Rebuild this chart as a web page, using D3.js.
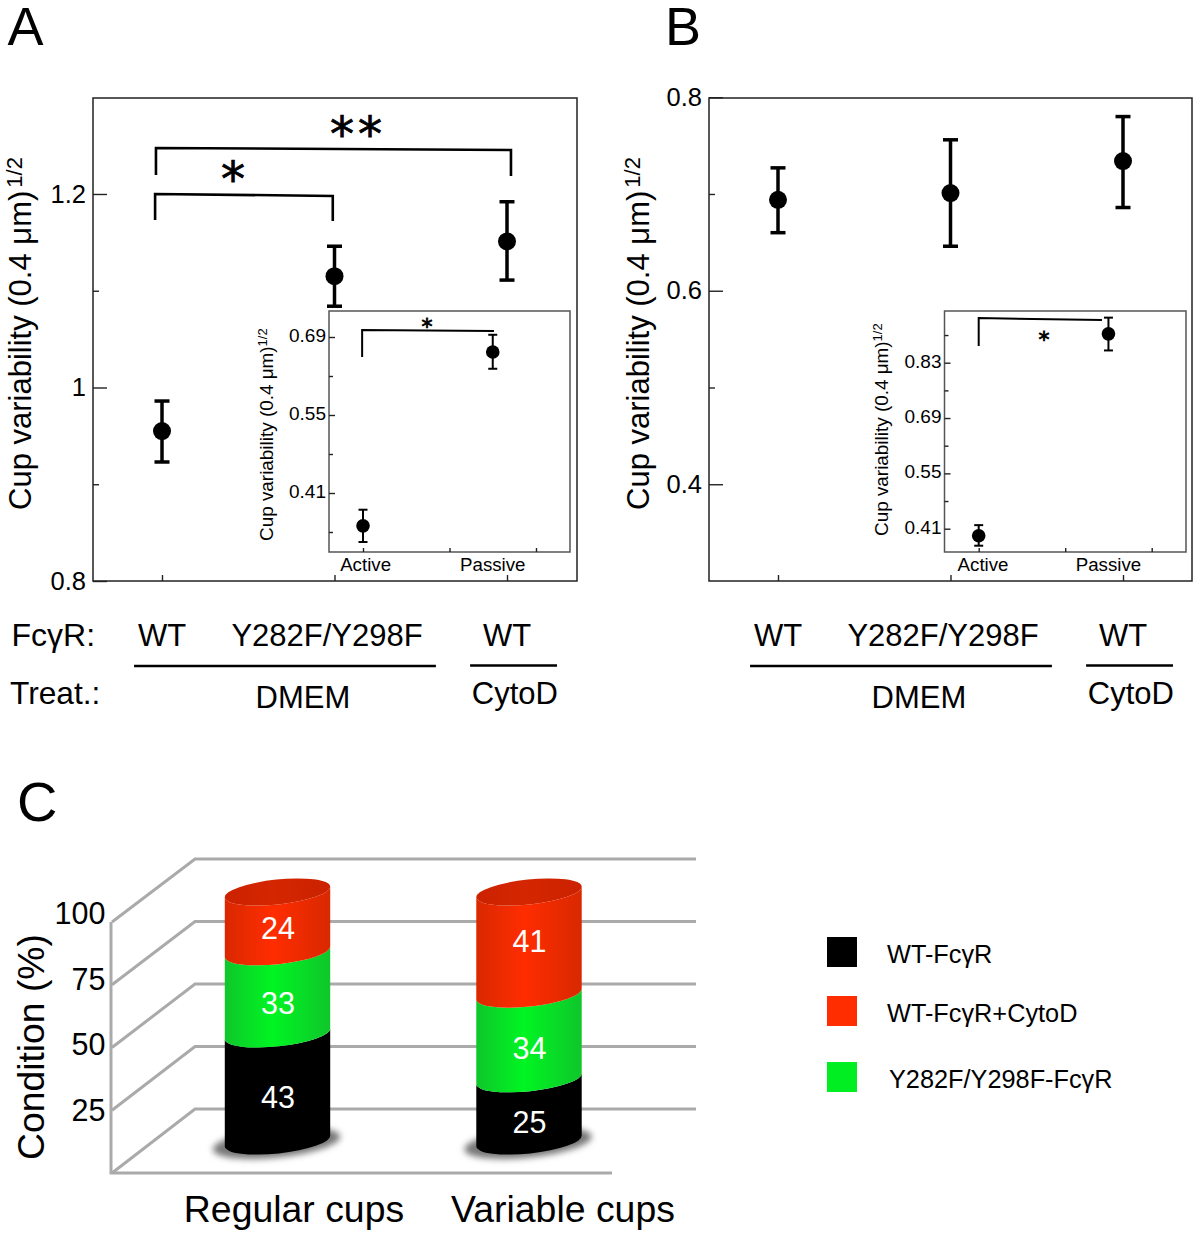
<!DOCTYPE html>
<html>
<head>
<meta charset="utf-8">
<script src="https://cdn.jsdelivr.net/npm/d3@7"></script>
<style>
body { margin: 0; background: #fff; }
svg { display: block; }
text { font-family: "Liberation Sans", Arial, sans-serif; fill: #000; }
.star { font-family: "DejaVu Sans", sans-serif; stroke: #000; stroke-width: 0.8; }
</style>
</head>
<body>
<div id="chart"></div>
<script>
// panel A, main plot
var meanA = [0.955, 1.115, 1.151],
    lowA = [0.923, 1.084, 1.111],
    highA = [0.986, 1.146, 1.192],
    majorA = [0.8, 1, 1.2],
    minorA = [0.9, 1.1],
    bracketsA = [
        [[-0.035, 1.2196], [-0.035, 1.2475], [2.023, 1.2455], [2.023, 1.2186]],
        [[-0.04, 1.1731], [-0.04, 1.2], [0.99, 1.198], [0.99, 1.1721]]
    ];

// panel A, inset
var insetX = [1, 2.5],
    insetNames = ["Active", "Passive"],
    insetTicksX = [1, 2, 3],
    meanAi = [0.351, 0.663],
    lowAi = [0.322, 0.633],
    highAi = [0.380, 0.694],
    majorAi = [0.41, 0.55, 0.69],
    minorAi = [0.34, 0.48, 0.62],
    bracketAi = [[0.99, 0.654], [0.99, 0.7026], [2.514, 0.7008]];

// panel B, main plot
var meanB = [0.694, 0.701, 0.734],
    lowB = [0.66, 0.646, 0.686],
    highB = [0.727, 0.756, 0.78],
    majorB = [0.4, 0.6, 0.8],
    minorB = [0.5, 0.7];

// panel B, inset
var meanBi = [0.392, 0.903],
    lowBi = [0.367, 0.861],
    highBi = [0.419, 0.944],
    majorBi = [0.41, 0.55, 0.69, 0.83],
    minorBi = [0.48, 0.62, 0.76, 0.9],
    bracketBi = [[1, 0.872], [1, 0.943], [2.425, 0.938]];

// panel C
var cups = ["Regular cups", "Variable cups"],
    regular = [43, 33, 24],
    variable = [25, 34, 41],
    gridC = [0, 25, 50, 75, 100],
    ticksC = [25, 50, 75, 100],
    legendNames = ["WT-FcγR", "WT-FcγR+CytoD", "Y282F/Y298F-FcγR"],
    legendColors = ["#000000", "#ff2d00", "#00ee22"];

var svg = d3.select("#chart").append("svg")
    .attr("width", 1200)
    .attr("height", 1237);

var line = d3.line();

function addTitle(x, y, size, supSize, supUp, gap) {
    var t = svg.append("text")
        .attr("transform", "translate(" + x + "," + y + ") rotate(-90)")
        .attr("font-size", size)
        .text("Cup variability (0.4 μm)");
    t.append("tspan")
        .attr("font-size", supSize)
        .attr("dx", gap)
        .attr("dy", -supUp)
        .text("1/2");
}

function tidy(sel) {
    sel.select(".domain").remove();
    sel.selectAll("line").attr("stroke", "#222").attr("stroke-width", 1.4);
    sel.attr("font-family", null).attr("font-size", null);
}

function drawAxes(g, left, bottom, x, y, xTicks, major, minor, o) {
    g.append("g")
        .attr("transform", "translate(" + left + ",0)")
        .call(d3.axisLeft(y).tickValues(major).tickSize(-o.major).tickPadding(o.pad).tickFormat(String))
        .call(tidy)
        .selectAll("text").attr("font-size", o.font).attr("y", o.labelUp ? -o.labelUp : 0);
    g.append("g")
        .attr("transform", "translate(" + left + ",0)")
        .call(d3.axisLeft(y).tickValues(minor).tickSize(-o.minor).tickFormat(""))
        .call(tidy);
    g.append("g")
        .attr("transform", "translate(0," + bottom + ")")
        .call(d3.axisBottom(x).tickValues(xTicks).tickSize(-o.minor).tickFormat(""))
        .call(tidy);
}

function drawPoints(g, xs, x, y, mean, low, high, o) {
    var idx = d3.range(mean.length);
    g.selectAll(null).data(idx).enter().append("line")
        .attr("x1", function(i) { return x(xs[i]); })
        .attr("x2", function(i) { return x(xs[i]); })
        .attr("y1", function(i) { return y(low[i]); })
        .attr("y2", function(i) { return y(high[i]); })
        .attr("stroke", "#000").attr("stroke-width", o.w);
    [low, high].forEach(function(arr) {
        g.selectAll(null).data(idx).enter().append("line")
            .attr("x1", function(i) { return x(xs[i]) - o.cap; })
            .attr("x2", function(i) { return x(xs[i]) + o.cap; })
            .attr("y1", function(i) { return y(arr[i]); })
            .attr("y2", function(i) { return y(arr[i]); })
            .attr("stroke", "#000").attr("stroke-width", o.w);
    });
    g.selectAll(null).data(idx).enter().append("circle")
        .attr("cx", function(i) { return x(xs[i]); })
        .attr("cy", function(i) { return y(mean[i]); })
        .attr("r", o.r)
        .attr("fill", "#000");
}

function drawBracket(g, pts, x, y, w) {
    g.append("path")
        .attr("d", line(pts.map(function(p) { return [x(p[0]), y(p[1])]; })))
        .attr("fill", "none").attr("stroke", "#000").attr("stroke-width", w);
}

function star(px, py, size, s, spacing) {
    svg.append("text").attr("class", "star")
        .attr("x", px).attr("y", py)
        .attr("font-size", size)
        .attr("text-anchor", "middle")
        .attr("letter-spacing", spacing || 0)
        .text(s);
}

function drawMain(dx, yDomain, mean, low, high, major, minor) {
    var g = svg.append("g");
    var x = d3.scaleLinear().domain([0, 2]).range([162 + dx, 507 + dx]);
    var y = d3.scaleLinear().domain(yDomain).range([581, 98]);
    var left = 93 + dx, right = dx ? 576 + dx : 577;
    g.append("rect")
        .attr("x", left).attr("y", 98)
        .attr("width", right - left).attr("height", 483)
        .attr("fill", "none").attr("stroke", "#222").attr("stroke-width", 1.5);
    drawAxes(g, left, 581, x, y, [0, 1, 2], major, minor, {major: 14, minor: 6, pad: 7, font: 25.5});
    drawPoints(g, [0, 1, 2], x, y, mean, low, high, {w: 3.5, cap: 7.5, r: 9});

    // factor labels under the plot
    var tx = function(s, px, py) {
        svg.append("text").attr("x", px).attr("y", py)
            .attr("font-size", 31).attr("text-anchor", "middle").text(s);
    };
    tx("WT", x(0), 646);
    tx("Y282F/Y298F", x(0.957), 646);
    tx("WT", x(2), 646);
    tx("DMEM", x(0.817), 708);
    tx("CytoD", x(2.046), 704);
    [[-0.162, 1.588], [1.786, 2.29]].forEach(function(s, i) {
        svg.append("line")
            .attr("x1", x(s[0])).attr("x2", x(s[1]))
            .attr("y1", 666 - i * 0.5).attr("y2", 666 - i * 0.5)
            .attr("stroke", "#000").attr("stroke-width", 2.6);
    });
    return {x: x, y: y};
}

function drawInset(x0, x1, tickX, yPx, yVals, mean, low, high, major, minor, labelPos) {
    var g = svg.append("g");
    var x = d3.scaleLinear().domain([1, 3]).range(tickX);
    var y = d3.scaleLinear().domain(yVals).range(yPx);
    g.append("rect")
        .attr("x", x0).attr("y", 311)
        .attr("width", x1 - x0).attr("height", 241)
        .attr("fill", "#fff").attr("stroke", "#555").attr("stroke-width", 1.5);
    drawAxes(g, x0, 552, x, y, insetTicksX, major, minor, {major: 6, minor: 4, pad: 3, font: 19, labelUp: 1.5});
    drawPoints(g, insetX, x, y, mean, low, high, {w: 2, cap: 4.5, r: 6.8});
    insetNames.forEach(function(n, i) {
        svg.append("text").attr("x", x(labelPos[i])).attr("y", 571)
            .attr("font-size", 18.7).attr("text-anchor", "middle").text(n);
    });
    return {x: x, y: y, g: g};
}

// panel letters
[["A", 7.5, 45], ["B", 665, 45], ["C", 17, 821]].forEach(function(d) {
    svg.append("text").attr("x", d[1]).attr("y", d[2]).attr("font-size", d[0] === "C" ? 56 : 54).text(d[0]);
});

// panel A
var pa = drawMain(0, [0.8, 1.2992], meanA, lowA, highA, majorA, minorA);
bracketsA.forEach(function(b) { drawBracket(svg, b, pa.x, pa.y, 2.6); });
star(358, 151, 48, "**", 4);
star(233, 196, 48, "*");
addTitle(31, 510, 31, 22, 9, 3);
svg.append("text").attr("x", 11.5).attr("y", 646).attr("font-size", 32).text("FcγR:");
svg.append("text").attr("x", 10).attr("y", 704).attr("font-size", 31.7).text("Treat.:");

var ia = drawInset(329, 570, [363, 536], [337, 493], [0.69, 0.41], meanAi, lowAi, highAi, majorAi, minorAi, [1.03, 2.5]);
drawBracket(svg, bracketAi, ia.x, ia.y, 2);
star(427, 334, 22, "*");
addTitle(273, 541, 18.9, 13, 6, 0);

// panel B
var pb = drawMain(616, [0.3, 0.7992], meanB, lowB, highB, majorB, minorB);
addTitle(649, 510, 31, 22, 9, 3);

var ib = drawInset(944.5, 1186, [978.7, 1151.7], [362.7, 528.7], [0.83, 0.41], meanBi, lowBi, highBi, majorBi, minorBi, [1.05, 2.5]);
drawBracket(svg, bracketBi, ib.x, ib.y, 2);
star(1044, 347, 22, "*");
addTitle(888, 536, 18.9, 13, 6, 0);

// panel C
var defs = svg.append("defs");
function addGradient(id, edge, mid) {
    var grad = defs.append("linearGradient").attr("id", id);
    grad.append("stop").attr("offset", "0%").attr("stop-color", edge);
    grad.append("stop").attr("offset", "45%").attr("stop-color", mid);
    grad.append("stop").attr("offset", "100%").attr("stop-color", edge);
}
addGradient("gBlack", "#000", "#000");
addGradient("gGreen", "#0fc62b", "#00f522");
addGradient("gRed", "#d92800", "#ff2d00");
addGradient("gTop", "#cc2200", "#d42600");
defs.append("filter").attr("id", "soft")
    .attr("x", "-30%").attr("y", "-60%").attr("width", "160%").attr("height", "220%")
    .append("feGaussianBlur").attr("stdDeviation", 3);

var fills = ["url(#gBlack)", "url(#gGreen)", "url(#gRed)"];

var frontY = d3.scaleLinear().domain([0, 100]).range([1173, 922]),
    backY = d3.scaleLinear().domain([0, 100]).range([1109, 859]),
    cylY = d3.scaleLinear().domain([0, 100]).range([1141, 892]),
    tickY = d3.scaleLinear().domain([25, 100]).range([1110, 913]),
    cupX = d3.scalePoint().domain(cups).range([277.5, 529]);

var grid = svg.append("g").attr("stroke", "#aaa").attr("stroke-width", 3).attr("fill", "none");
gridC.forEach(function(v) {
    grid.append("path").attr("d", line([[112, frontY(v)], [195, backY(v)], [696, backY(v)]]));
});
grid.append("path").attr("d", line([[111, frontY(100)], [111, frontY(0)], [612, frontY(0)]]));

ticksC.forEach(function(v) {
    svg.append("text").attr("x", 105.5).attr("y", tickY(v) + 11)
        .attr("font-size", 30.5).attr("text-anchor", "end").text(v);
});
svg.append("text")
    .attr("transform", "translate(44,1160) rotate(-90)")
    .attr("font-size", 37.3)
    .text("Condition (%)");

var rx = 53, ry = 12.5, tilt = -6,
    cosT = Math.cos(tilt * Math.PI / 180),
    sinT = Math.sin(tilt * Math.PI / 180);

function drawCup(name, values, nudge) {
    var cx = cupX(name);
    var arc = "A" + rx + "," + ry + " " + tilt + " 0 ";
    var lx = cx - rx * cosT, rxp = cx + rx * cosT;
    var dyEnd = rx * sinT; // right end is higher than the left end
    var stack = d3.cumsum(values);

    svg.append("ellipse")
        .attr("transform", "translate(" + (cx - 1) + "," + (cylY(0) + 2) + ") rotate(" + tilt + ")")
        .attr("rx", rx + 11).attr("ry", ry + 2)
        .attr("fill", "#777").attr("filter", "url(#soft)");

    values.forEach(function(v, i) {
        var a = cylY(i ? stack[i - 1] : 0), b = cylY(stack[i]);
        svg.append("path")
            .attr("d", "M" + lx + "," + (b - dyEnd) + arc + "0 " + rxp + "," + (b + dyEnd) +
                "L" + rxp + "," + (a + dyEnd) + arc + "1 " + lx + "," + (a - dyEnd) + "Z")
            .attr("fill", fills[i]);
    });

    svg.append("ellipse")
        .attr("transform", "translate(" + cx + "," + cylY(100) + ") rotate(" + tilt + ")")
        .attr("rx", rx).attr("ry", ry)
        .attr("fill", "url(#gTop)");

    values.forEach(function(v, i) {
        var from = i ? stack[i - 1] : 0;
        svg.append("text")
            .attr("x", cx + 0.5).attr("y", cylY(from + v / 2) + 20 + nudge[i])
            .attr("font-size", 30.5).attr("text-anchor", "middle")
            .style("fill", "#fff").text(v);
    });
}
drawCup(cups[0], regular, [1, 1, -3]);
drawCup(cups[1], variable, [3, 3, -11]);

[[cups[0], 16.5], [cups[1], 34]].forEach(function(d) {
    svg.append("text").attr("x", cupX(d[0]) + d[1]).attr("y", 1222)
        .attr("font-size", 37.4).attr("text-anchor", "middle").text(d[0]);
});

// legend
var legendY = d3.scaleOrdinal().domain(legendNames).range([952, 1011, 1077]);
legendNames.forEach(function(n, i) {
    svg.append("rect")
        .attr("x", 827).attr("y", legendY(n) - 15)
        .attr("width", 30).attr("height", 30)
        .attr("fill", legendColors[i]);
    svg.append("text")
        .attr("x", i === 2 ? 889 : 887).attr("y", legendY(n) + 11)
        .attr("font-size", 25.3).text(n);
});
</script>
</body>
</html>
